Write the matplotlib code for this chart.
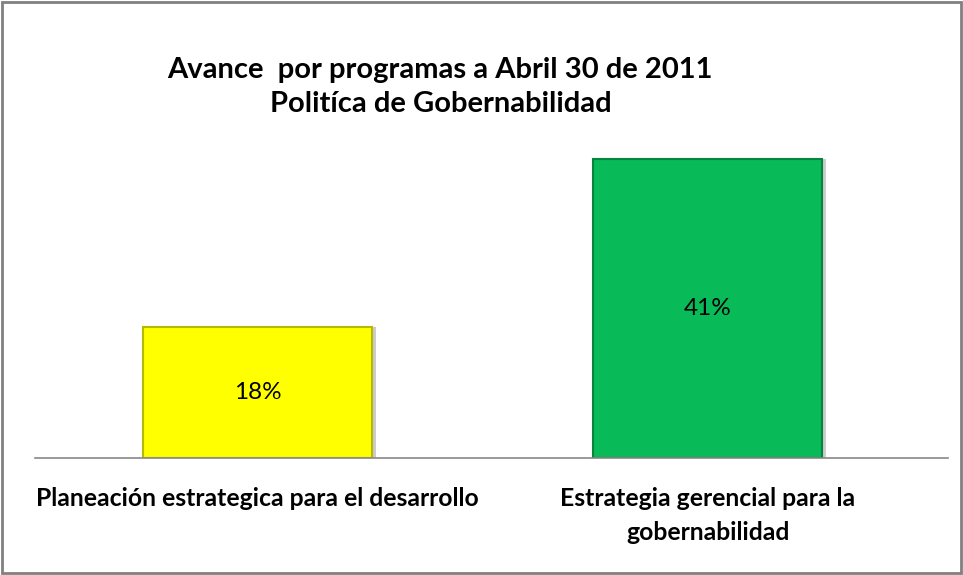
import numpy as np
import matplotlib.pyplot as plt
from matplotlib.patches import Rectangle

categories = ['Planeación estrategica para el desarrollo',
              'Estrategia gerencial para la\ngobernabilidad']
values = [18, 41]
labels = ['18%', '41%']
colors = ['#FFFF00', '#08BA58']
edges = ['#B8B800', '#06853F']

plt.rcParams['font.family'] = ['Lato', 'DejaVu Sans']

W, H = 963, 575
fig = plt.figure(figsize=(W / 100, H / 100), dpi=100)

# axes in pixel terms: left 35, right 948, baseline y=458
ax = fig.add_axes([35 / W, (H - 458) / H, (948 - 35) / W, (458 - 100) / H])
x = np.arange(len(values))
# soft shadow on the right side of the bars
ax.bar(x + 0.008, values, width=0.509, color='#cccccc', linewidth=0, zorder=1)
ax.bar(x, values, width=0.509, color=colors, edgecolor=edges, linewidth=1.5, zorder=2)
ax.set_xlim(-0.494, 1.534)
ax.set_ylim(0, (458 - 100) / 7.285)

for xi, v, lab in zip(x, values, labels):
    ax.text(xi, v / 2, lab, ha='center', va='center', fontsize=17.5, color='black', zorder=3)

for s in ['top', 'right', 'left']:
    ax.spines[s].set_visible(False)
ax.spines['bottom'].set_color('#888888')
ax.spines['bottom'].set_linewidth(1.2)
ax.spines['bottom'].set_zorder(4)
ax.set_yticks([])
ax.set_xticks(x)
ax.set_xticklabels(categories, fontsize=17.8, fontweight='bold', linespacing=1.55)
ax.tick_params(axis='x', length=0, pad=21)

fig.text(440 / W, 1 - 70 / H, 'Avance  por programas a Abril 30 de 2011',
         ha='center', va='center', fontsize=21, fontweight='bold')
fig.text(441 / W, 1 - 104 / H, 'Politíca de Gobernabilidad',
         ha='center', va='center', fontsize=21, fontweight='bold')

fig.patches.append(Rectangle((2 / W, 2 / H), (W - 4) / W, (H - 4) / H,
                             transform=fig.transFigure, fill=False,
                             edgecolor='#808080', linewidth=2))

fig.savefig('out.png', dpi=100)
